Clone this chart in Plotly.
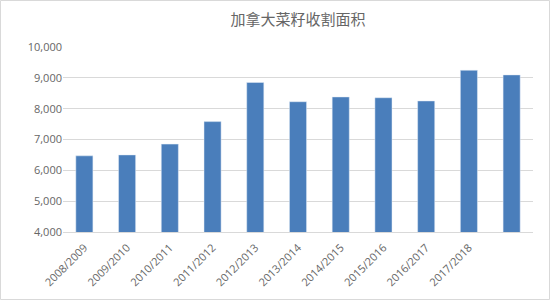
import plotly.graph_objects as go

categories = ["2008/2009", "2009/2010", "2010/2011", "2011/2012", "2012/2013",
              "2013/2014", "2014/2015", "2015/2016", "2016/2017", "2017/2018", "2018/2019"]
tick_labels = ["2008/2009", "2009/2010", "2010/2011", "2011/2012", "2012/2013",
               "2013/2014", "2014/2015", "2015/2016", "2016/2017", "2017/2018", ""]
area = [6470, 6500, 6850, 7580, 8850, 8225, 8380, 8355, 8250, 9245, 9095]
y_ticks = [4000, 5000, 6000, 7000, 8000, 9000, 10000]

W, H = 550, 300
L, R, T, B = 63, 17, 47, 68
pw, ph = W - L - R, H - T - B

fig = go.Figure(go.Bar(x=categories, y=area, marker_color="#4a7ebb", width=0.4))

fig.update_layout(
    width=W, height=H,
    margin=dict(l=L, r=R, t=T, b=B, autoexpand=False),
    paper_bgcolor="white", plot_bgcolor="white",
    title=dict(text="加拿大菜籽收割面积", x=0.5, xref="paper", y=1 - 20 / H, yanchor="middle",
               font=dict(family="Noto Sans CJK SC", size=15, color="#666666")),
    showlegend=False,
    font=dict(family="Open Sans", size=11, color="#666666"),
)
fig.update_xaxes(type="category", tickvals=categories, ticktext=tick_labels, tickangle=-45,
                 showline=True, linecolor="#d9d9d9", linewidth=1, ticks="",
                 ticklabelstandoff=4,
                 showgrid=False, automargin=False, tickfont=dict(size=11, color="#666666"))
fig.update_yaxes(range=[4000, 10000], tickvals=y_ticks, tickformat=",", showgrid=True,
                 gridcolor="#d9d9d9", gridwidth=1, zeroline=False, showline=False, ticks="",
                 automargin=False, tickfont=dict(size=11, color="#666666"), ticksuffix="  ")
fig.add_shape(type="rect", xref="paper", yref="paper",
              x0=(-L + 0.5) / pw, x1=(pw + R - 0.5) / pw,
              y0=(-B + 0.5) / ph, y1=(ph + T - 0.5) / ph,
              line=dict(color="#d9d9d9", width=1))

fig.write_html("out.html")
